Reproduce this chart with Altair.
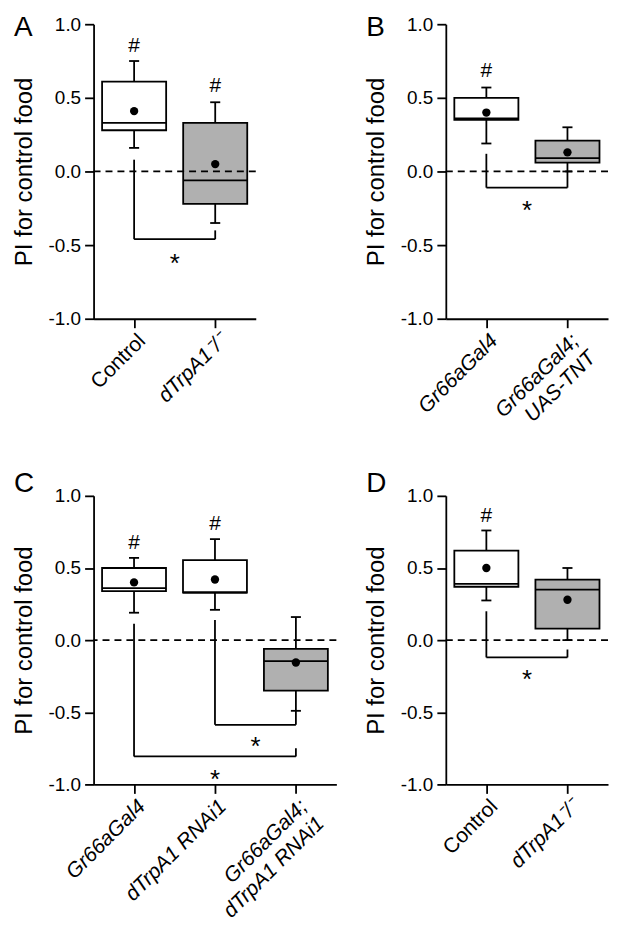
import json
import altair as alt
import pandas as pd

FONT = "Liberation Sans"

# ---------------- data ----------------
# Panel A
A_groups = ["Control", "dTrpA1\u207b/\u207b"]
A_kind = ["control", "test"]
A_low = [0.16, -0.35]
A_q1 = [0.28, -0.22]
A_median = [0.33, -0.06]
A_q3 = [0.61, 0.33]
A_high = [0.75, 0.47]
A_mean = [0.41, 0.05]
A_hash_group = [0, 1]
A_hash_y = [0.86, 0.59]
A_br_from = [0]
A_br_to = [1]
A_br_level = [-0.46]
A_br_from_top = [0.08]
A_br_to_top = [-0.40]
A_star_x = [0.5]
A_star_y = [-0.58]

# Panel B
B_groups = ["Gr66aGal4", "Gr66aGal4;\nUAS-TNT"]
B_kind = ["control", "test"]
B_low = [0.19, 0.00]
B_q1 = [0.35, 0.06]
B_median = [0.36, 0.09]
B_q3 = [0.50, 0.21]
B_high = [0.57, 0.30]
B_mean = [0.40, 0.13]
B_hash_group = [0]
B_hash_y = [0.69]
B_br_from = [0]
B_br_to = [1]
B_br_level = [-0.11]
B_br_from_top = [0.12]
B_br_to_top = [0.0]
B_star_x = [0.5]
B_star_y = [-0.22]

# Panel C
C_groups = ["Gr66aGal4", "dTrpA1 RNAi1", "Gr66aGal4;\ndTrpA1 RNAi1"]
C_kind = ["control", "control", "test"]
C_low = [0.19, 0.21, -0.49]
C_q1 = [0.34, 0.33, -0.35]
C_median = [0.36, 0.33, -0.145]
C_q3 = [0.50, 0.555, -0.06]
C_high = [0.57, 0.70, 0.16]
C_mean = [0.40, 0.42, -0.155]
C_hash_group = [0, 1]
C_hash_y = [0.68, 0.81]
C_br_from = [1, 0]
C_br_to = [2, 2]
C_br_level = [-0.587, -0.806]
C_br_from_top = [0.14, 0.114]
C_br_to_top = [-0.49, -0.75]
C_star_x = [1.5, 1.0]
C_star_y = [-0.69, -0.92]

# Panel D
D_groups = ["Control", "dTrpA1\u207b/\u207b"]
D_kind = ["control", "test"]
D_low = [0.275, 0.00]
D_q1 = [0.37, 0.08]
D_median = [0.39, 0.35]
D_q3 = [0.62, 0.42]
D_high = [0.76, 0.50]
D_mean = [0.50, 0.28]
D_hash_group = [0]
D_hash_y = [0.87]
D_br_from = [0]
D_br_to = [1]
D_br_level = [-0.12]
D_br_from_top = [0.20]
D_br_to_top = [-0.065]
D_star_x = [0.5]
D_star_y = [-0.23]

Y_TICKS = [-1.0, -0.75, -0.5, -0.25, 0.0, 0.25, 0.5, 0.75, 1.0]

BOX_HALF = 0.395
CAP_HALF = 0.062
GRAY = "#b0b0b0"
LW = 1.8


def panel(letter, groups, kind, low, q1, med, q3, high, mean,
          hash_group, hash_y, br_from, br_to, br_level, br_from_top, br_to_top,
          star_x, star_y, width, height, normal_first, letter_x, letter_y):
    n = len(groups)
    pos = list(range(n))
    df = pd.DataFrame({"pos": pos, "kind": kind, "low": low, "q1": q1,
                       "median": med, "q3": q3, "high": high, "mean": mean})
    df["left"] = df["pos"] - BOX_HALF
    df["right"] = df["pos"] + BOX_HALF
    df["cl"] = df["pos"] - CAP_HALF
    df["cr"] = df["pos"] + CAP_HALF

    lines = [g.split("\n") for g in groups]
    label_expr = json.dumps(lines, ensure_ascii=False) + "[datum.value]"
    if normal_first:
        style = {"condition": {"test": "datum.value == 0", "value": "normal"}, "value": "italic"}
    else:
        style = "italic"

    xscale = alt.Scale(domain=[-0.5, n - 0.5], nice=False, zero=False)
    yscale = alt.Scale(domain=[-1, 1], nice=False, zero=False)
    xaxis = alt.Axis(values=pos, labelExpr=label_expr, labelAngle=-45, title=None,
                     tickSize=9, labelFontSize=21, labelFontStyle=style, labelPadding=2,
                     labelAlign="right", labelBaseline="top",
                     labelLineHeight=24, grid=False, labelOverlap=False, labelFlush=False)
    yaxis = alt.Axis(values=Y_TICKS,
                     labelExpr="datum.value % 0.5 == 0 ? (datum.value < 0 ? '-' : '') + format(abs(datum.value), '.1f') : ''",
                     tickSize={"condition": {"test": "datum.value % 0.5 == 0", "value": 9}, "value": 5},
                     labelFontSize=19, labelPadding=4, title="PI for control food",
                     titleFontSize=24, titlePadding=12, titleFontWeight="normal", grid=False,
                     labelFlush=False, labelOverlap=False)

    base = alt.Chart(df)
    X = alt.X("pos:Q", scale=xscale, axis=xaxis)
    Y = alt.Y("low:Q", scale=yscale, axis=yaxis)

    whisk = base.mark_rule(color="black", strokeWidth=LW).encode(x=X, y=Y, y2="high:Q")
    cap_hi = base.mark_rule(color="black", strokeWidth=LW).encode(
        x=alt.X("cl:Q", scale=xscale), x2="cr:Q", y=alt.Y("high:Q", scale=yscale))
    cap_lo = base.mark_rule(color="black", strokeWidth=LW).encode(
        x=alt.X("cl:Q", scale=xscale), x2="cr:Q", y=alt.Y("low:Q", scale=yscale))
    box = base.mark_rect(stroke="black", strokeWidth=LW).encode(
        x=alt.X("left:Q", scale=xscale), x2="right:Q",
        y=alt.Y("q1:Q", scale=yscale), y2="q3:Q",
        fill=alt.Fill("kind:N", scale=alt.Scale(domain=["control", "test"], range=["white", GRAY]), legend=None))
    median = base.mark_rule(color="black", strokeWidth=LW).encode(
        x=alt.X("left:Q", scale=xscale), x2="right:Q", y=alt.Y("median:Q", scale=yscale))
    zero = alt.Chart(pd.DataFrame({"z": [0.0]})).mark_rule(
        color="black", strokeWidth=LW, strokeDash=[7, 5]).encode(y=alt.Y("z:Q", scale=yscale))
    dots = base.mark_point(filled=True, color="black", size=70, opacity=1).encode(
        x=alt.X("pos:Q", scale=xscale), y=alt.Y("mean:Q", scale=yscale))

    segs = {"x": [], "x2": [], "y": [], "y2": []}
    for f, t, lv, ft, tt in zip(br_from, br_to, br_level, br_from_top, br_to_top):
        segs["x"] += [f, f, t]
        segs["x2"] += [f, t, t]
        segs["y"] += [ft, lv, tt]
        segs["y2"] += [lv, lv, lv]
    brackets = alt.Chart(pd.DataFrame(segs)).mark_rule(color="black", strokeWidth=LW).encode(
        x=alt.X("x:Q", scale=xscale), x2="x2:Q", y=alt.Y("y:Q", scale=yscale), y2="y2:Q")

    hashes = alt.Chart(pd.DataFrame({"g": hash_group, "y": hash_y, "t": ["#"] * len(hash_y)})).mark_text(
        font=FONT, fontSize=21, color="black", baseline="alphabetic", dy=7).encode(
        x=alt.X("g:Q", scale=xscale), y=alt.Y("y:Q", scale=yscale), text="t:N")
    stars = alt.Chart(pd.DataFrame({"x": star_x, "y": star_y, "t": ["*"] * len(star_y)})).mark_text(
        font=FONT, fontSize=26, color="black", baseline="alphabetic", dy=15).encode(
        x=alt.X("x:Q", scale=xscale), y=alt.Y("y:Q", scale=yscale), text="t:N")

    lab = alt.Chart(pd.DataFrame({"t": [letter]})).mark_text(
        font=FONT, fontSize=28, color="black", align="left", baseline="alphabetic").encode(
        x=alt.value(letter_x), y=alt.value(letter_y), text="t:N")

    layers = [whisk, cap_hi, cap_lo, box, median, zero, brackets, dots, hashes, stars, lab]
    return alt.layer(*layers).properties(width=width, height=height)


pA = panel("A", A_groups, A_kind, A_low, A_q1, A_median, A_q3, A_high, A_mean,
           A_hash_group, A_hash_y, A_br_from, A_br_to, A_br_level, A_br_from_top, A_br_to_top,
           A_star_x, A_star_y, 163, 296, True, -80, 12)
pB = panel("B", B_groups, B_kind, B_low, B_q1, B_median, B_q3, B_high, B_mean,
           B_hash_group, B_hash_y, B_br_from, B_br_to, B_br_level, B_br_from_top, B_br_to_top,
           B_star_x, B_star_y, 163, 296, False, -80, 12)
pC = panel("C", C_groups, C_kind, C_low, C_q1, C_median, C_q3, C_high, C_mean,
           C_hash_group, C_hash_y, C_br_from, C_br_to, C_br_level, C_br_from_top, C_br_to_top,
           C_star_x, C_star_y, 244, 290, False, -80, -4)
pD = panel("D", D_groups, D_kind, D_low, D_q1, D_median, D_q3, D_high, D_mean,
           D_hash_group, D_hash_y, D_br_from, D_br_to, D_br_level, D_br_from_top, D_br_to_top,
           D_star_x, D_star_y, 163, 290, True, -80, -4)

chart = alt.concat(pA, pB, pC, pD, columns=2, align="each",
                   spacing={"row": 32, "column": 27}).properties(
    padding={"left": 4, "top": 4, "right": 0, "bottom": 0}, background="white"
).configure_view(stroke=None).configure_axis(
    domainColor="black", domainWidth=LW, tickColor="black", tickWidth=LW,
    labelColor="black", titleColor="black", labelFont=FONT, titleFont=FONT, grid=False
)

chart.save("out.html", embed_options={"renderer": "svg", "actions": False})
